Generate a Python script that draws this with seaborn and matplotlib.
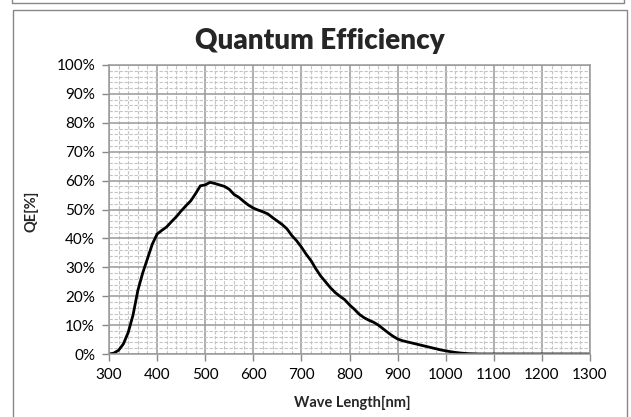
import seaborn as sns
import pandas as pd
import matplotlib.pyplot as plt
from matplotlib.lines import Line2D
from matplotlib.patches import Rectangle
from matplotlib.ticker import MultipleLocator, PercentFormatter

# Dados (comprimento de onda em nm, QE em %)
wavelength = [300, 310, 320, 330, 340, 350, 360, 370, 380, 390,
              400, 410, 420, 430, 440, 450, 460, 470, 480, 490,
              500, 510, 520, 530, 540, 550, 560, 570, 580, 590,
              600, 610, 620, 630, 640, 650, 660, 670, 680, 690,
              700, 710, 720, 730, 740, 750, 760, 770, 780, 790,
              800, 810, 820, 830, 840, 850, 860, 870, 880, 890,
              900, 910, 920, 930, 940, 950, 960, 970, 980, 990,
              1000, 1010, 1020, 1030, 1040, 1050, 1060, 1070, 1100, 1200, 1300]
qe = [0.0, 0.3, 1.3, 3.5, 7.5, 13.5, 22.0, 28.0, 33.0, 38.0,
      41.5, 42.8, 44.0, 45.8, 47.5, 49.5, 51.3, 53.0, 55.5, 58.2,
      58.5, 59.4, 59.0, 58.5, 58.0, 57.0, 55.2, 54.2, 52.8, 51.5,
      50.5, 49.8, 49.2, 48.5, 47.2, 46.0, 44.8, 43.3, 41.0, 39.2,
      37.0, 34.5, 32.3, 29.5, 27.0, 25.0, 23.0, 21.3, 20.0, 18.8,
      17.0, 15.5, 13.8, 12.6, 11.7, 11.0, 10.0, 8.7, 7.4, 6.2,
      5.2, 4.6, 4.2, 3.8, 3.4, 3.0, 2.6, 2.2, 1.8, 1.4,
      1.1, 0.8, 0.55, 0.35, 0.2, 0.1, 0.05, 0.0, 0.0, 0.0, 0.0]

df = pd.DataFrame({'wl': wavelength, 'qe': qe})

sns.set_style('white')
plt.rcParams['font.family'] = ['Lato', 'DejaVu Sans']

fig = plt.figure(figsize=(6.31, 4.17), dpi=100)
ax = fig.add_axes([109 / 631, 1 - 354 / 417, 481 / 631, 289 / 417])

# Grade principal e secundária
ax.xaxis.set_major_locator(MultipleLocator(100))
ax.xaxis.set_minor_locator(MultipleLocator(20))
ax.yaxis.set_major_locator(MultipleLocator(10))
ax.yaxis.set_minor_locator(MultipleLocator(2))
ax.grid(which='minor', color='#c4c4c4', linestyle=(0, (3, 1.5)), linewidth=0.8)
ax.grid(which='major', color='#999999', linestyle='-', linewidth=1.1)
ax.set_axisbelow(True)

sns.lineplot(data=df, x='wl', y='qe', color='black', linewidth=2.0, ax=ax)

ax.set_xlim(300, 1300)
ax.set_ylim(0, 100)
ax.yaxis.set_major_formatter(PercentFormatter(decimals=0))
ax.tick_params(which='major', direction='out', length=5, width=1, color='#888888',
               labelsize=11, labelcolor='black', pad=5, bottom=True, left=True)
ax.tick_params(which='minor', length=0)
for s in ax.spines.values():
    s.set_color('#999999')
    s.set_linewidth(1.1)

ax.set_xlabel('')
ax.set_ylabel('')
fig.text(352 / 631, 1 - 403 / 417, 'Wave Length[nm]', ha='center', va='center',
         fontsize=10.5, fontweight='bold')
fig.text(31 / 631, 1 - 211 / 417, 'QE[%]', ha='center', va='center',
         fontsize=10.5, fontweight='bold', rotation=90)
fig.text(320 / 631, 1 - 41 / 417, 'Quantum Efficiency', ha='center', va='center',
         fontsize=20, fontweight='heavy')

# Moldura do gráfico
fig.patches.append(Rectangle((13 / 631, -0.05), 614 / 631, 1.05 - 10 / 417,
                             transform=fig.transFigure, fill=False,
                             edgecolor='#888888', linewidth=1))
fig.lines.append(Line2D([12 / 631, 12 / 631, 624 / 631, 624 / 631],
                        [1.01, 1 - 2.5 / 417, 1 - 2.5 / 417, 1.01],
                        transform=fig.transFigure, color='#888888', linewidth=1))

fig.savefig('out.png', dpi=100)
